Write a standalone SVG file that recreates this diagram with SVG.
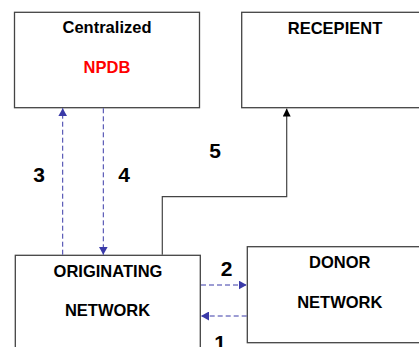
<svg xmlns="http://www.w3.org/2000/svg" width="419" height="347" viewBox="0 0 419 347">
<defs>
<style>
.box{fill:#fff;stroke:#444;stroke-width:1.3}
.t{font-family:"Liberation Sans",Arial,sans-serif;font-weight:bold;font-size:16.5px;text-anchor:middle;fill:#000}
.n{font-family:"Liberation Sans",Arial,sans-serif;font-weight:bold;font-size:21px;text-anchor:middle;fill:#000}
.d{fill:none;stroke:#3a3aa8;stroke-width:1;stroke-dasharray:5 3}
.s{fill:none;stroke:#444;stroke-width:1.2}
</style>
<marker id="ab" viewBox="0 0 8 9" refX="8" refY="4.5" markerWidth="8" markerHeight="9" markerUnits="userSpaceOnUse" orient="auto">
<path d="M0,0 L8,4.5 L0,9 Z" fill="#3a3aa8"/>
</marker>
<marker id="ak" viewBox="0 0 8 8" refX="8" refY="4" markerWidth="8" markerHeight="8" markerUnits="userSpaceOnUse" orient="auto">
<path d="M0,0 L8,4 L0,8 Z" fill="#000"/>
</marker>
</defs>
<rect width="419" height="347" fill="#fff"/>
<g id="npdb">
<rect class="box" x="14.5" y="12.3" width="185" height="95.4"/>
<text class="t" x="107" y="33.3">Centralized</text>
<text class="t" x="107" y="72.7" fill="#f00" style="fill:#f00">NPDB</text>
</g>
<g id="recepient">
<rect class="box" x="241.7" y="12.3" width="190" height="95.4"/>
<text class="t" x="335" y="34.3">RECEPIENT</text>
</g>
<g id="originating">
<rect class="box" x="15.3" y="255.3" width="185" height="100"/>
<text class="t" x="108" y="276.7">ORIGINATING</text>
<text class="t" x="107.5" y="316">NETWORK</text>
</g>
<g id="donor">
<rect class="box" x="247.3" y="246.7" width="190" height="96"/>
<text class="t" x="339.7" y="267.7">DONOR</text>
<text class="t" x="339.8" y="307.7">NETWORK</text>
</g>
<g id="connectors">
<line class="d" x1="62.7" y1="254.7" x2="62.7" y2="108.3" marker-end="url(#ab)"/>
<line class="d" x1="103.3" y1="108.3" x2="103.3" y2="254.7" marker-end="url(#ab)"/>
<polyline class="s" points="162.3,254.7 162.3,196.7 286.7,196.7 286.7,108.5" marker-end="url(#ak)"/>
<line class="d" x1="201" y1="285" x2="246.7" y2="285" marker-end="url(#ab)"/>
<line class="d" x1="246.7" y1="316" x2="201" y2="316" marker-end="url(#ab)"/>
</g>
<g id="labels">
<text class="n" x="39.2" y="181.7">3</text>
<text class="n" x="124" y="181.7">4</text>
<text class="n" x="215" y="157.7">5</text>
<text class="n" x="226.5" y="275.7">2</text>
<text class="n" x="220" y="350">1</text>
</g>
</svg>
